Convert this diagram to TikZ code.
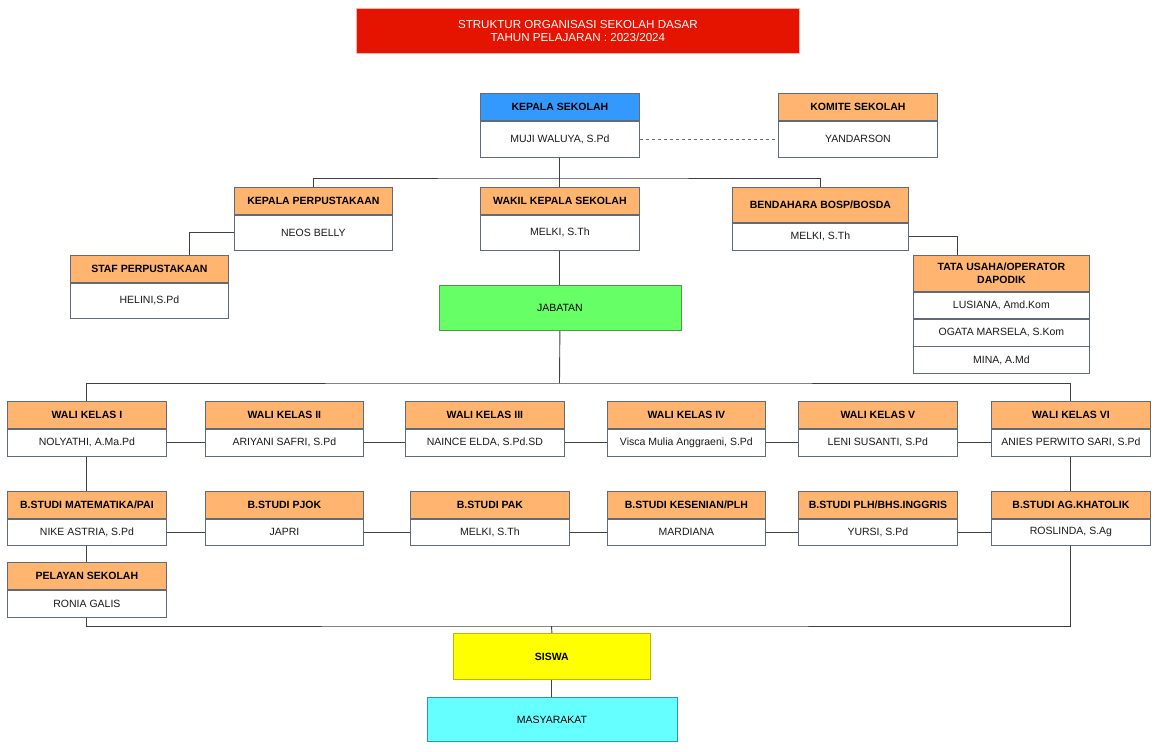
\documentclass[tikz,border=0pt]{standalone}
\usepackage{fontspec}
\setmainfont{Liberation Sans}

\definecolor{headorange}{HTML}{FFB570}
\definecolor{kepblue}{HTML}{3399FF}
\definecolor{titlered}{HTML}{E51400}
\definecolor{jabgreen}{HTML}{66FF66}
\definecolor{jabline}{HTML}{4D9A4D}
\definecolor{siswayellow}{HTML}{FFFF00}
\definecolor{siswaline}{HTML}{C8B400}
\definecolor{masycyan}{HTML}{66FFFF}
\definecolor{masyline}{HTML}{2F8FCF}
\definecolor{cardline}{HTML}{5F6B78}
\definecolor{linegray}{HTML}{404040}
\definecolor{bodytext}{HTML}{1A1A1A}

% header box + name box below it
\newcommand{\orgcard}[9][]{%
  \node[head,#1,minimum width=#5pt,minimum height=#6pt] (#2) at (#3,#4) {#8};
  \node[body,minimum width=#5pt,minimum height=#7pt] (#2b) at (#2.south) {#9};
}

\begin{document}
\begin{tikzpicture}[x=1pt,y=-1pt,
  box/.style={draw=cardline,line width=0.8pt,inner sep=0pt,align=center},
  head/.style={box,fill=headorange,font=\bfseries\fontsize{10.5}{13}\selectfont,anchor=north west},
  body/.style={box,fill=white,text=bodytext,font=\fontsize{10.5}{13}\selectfont,anchor=north},
  plain/.style={line width=0.8pt,inner sep=0pt,anchor=north west,font=\fontsize{10.5}{13}\selectfont},
  link/.style={draw=linegray,line width=0.9pt}]
\useasboundingbox (0,0) rectangle (1157,752);

\node[plain,fill=titlered,draw=red!30,text=white,align=center,
  font=\fontsize{11.6}{13.5}\selectfont,
  minimum width=443pt,minimum height=45pt] (title) at (356,8)
  {STRUKTUR ORGANISASI SEKOLAH DASAR\\TAHUN PELAJARAN : 2023/2024};

% top
\orgcard[fill=kepblue]{kepsek}{480}{93}{159}{27}{36}{KEPALA SEKOLAH}{MUJI WALUYA, S.Pd}
\orgcard{komite}{778}{93}{159}{27}{36}{KOMITE SEKOLAH}{YANDARSON}
\orgcard{perpus}{234}{187}{158}{27}{35}{KEPALA PERPUSTAKAAN}{NEOS BELLY}
\orgcard{wakil}{480}{187}{159}{27}{35}{WAKIL KEPALA SEKOLAH}{MELKI, S.Th}
\orgcard{bend}{732}{187}{176}{35}{27}{BENDAHARA BOSP/BOSDA}{MELKI, S.Th}
\orgcard{staf}{70}{255}{158}{27}{35}{STAF PERPUSTAKAAN}{HELINI,S.Pd}
\orgcard{tata}{913}{255}{176}{36}{26}{TATA USAHA/OPERATOR\\DAPODIK}{LUSIANA, Amd.Kom}
\node[body,minimum width=176pt,minimum height=27pt] (tata2) at (tatab.south) {OGATA MARSELA, S.Kom};
\node[body,minimum width=176pt,minimum height=27pt] (tata3) at (tata2.south) {MINA, A.Md};

\node[plain,fill=jabgreen,draw=jabline,minimum width=242pt,minimum height=45pt] (jab) at (438.5,285) {JABATAN};

% wali kelas
\orgcard{wk1}{7}{401}{159}{27}{27}{WALI KELAS I}{NOLYATHI, A.Ma.Pd}
\orgcard{wk2}{205}{401}{158}{27}{27}{WALI KELAS II}{ARIYANI SAFRI, S.Pd}
\orgcard{wk3}{405}{401}{159}{27}{27}{WALI KELAS III}{NAINCE ELDA, S.Pd.SD}
\orgcard{wk4}{607}{401}{158}{27}{27}{WALI KELAS IV}{Visca Mulia Anggraeni, S.Pd}
\orgcard{wk5}{798}{401}{159}{27}{27}{WALI KELAS V}{LENI SUSANTI, S.Pd}
\orgcard{wk6}{991}{401}{159}{27}{27}{WALI KELAS VI}{ANIES PERWITO SARI, S.Pd}

% bidang studi
\orgcard{mat}{7}{491}{159}{27}{26}{B.STUDI MATEMATIKA/PAI}{NIKE ASTRIA, S.Pd}
\orgcard{pjok}{205}{491}{158}{27}{26}{B.STUDI PJOK}{JAPRI}
\orgcard{pak}{410}{491}{159}{27}{26}{B.STUDI PAK}{MELKI, S.Th}
\orgcard{seni}{607}{491}{158}{27}{26}{B.STUDI KESENIAN/PLH}{MARDIANA}
\orgcard{plh}{798}{491}{159}{27}{26}{B.STUDI PLH/BHS.INGGRIS}{YURSI, S.Pd}
\orgcard{ag}{991}{491}{159}{27}{26}{B.STUDI AG.KHATOLIK}{ROSLINDA, S.Ag}
\orgcard{pel}{7}{562}{159}{27}{27}{PELAYAN SEKOLAH}{RONIA GALIS}

\node[plain,fill=siswayellow,draw=siswaline,font=\bfseries\fontsize{10.5}{13}\selectfont,
  minimum width=197pt,minimum height=46pt] (siswa) at (453,633) {SISWA};
\node[plain,fill=masycyan,draw=masyline,minimum width=250pt,minimum height=44pt] (masy) at (426.5,697) {MASYARAKAT};

\coordinate (bar1) at (559.5,178);
\coordinate (bar2) at (559.5,383);
\coordinate (bar3) at (551.5,626);

% connectors
\draw[draw=cardline,line width=0.8pt,dash pattern=on 3pt off 3pt] (kepsekb.east) -- (komiteb.west);
\draw[link] (kepsekb.south) -- (wakil.north);
\draw[link] (perpus.north) |- (bar1) -| (bend.north);
\draw[link] (perpusb.west) -| ([xshift=40pt]staf.north);
\draw[link] (bendb.east) -| ([xshift=-44pt]tata.north);
\draw[link] (wakilb.south) -- (jab.north);
\draw[link] (jab.south) -- (bar2);
\draw[link] (wk1.north) |- (bar2) -| (wk6.north);
\foreach \a/\b in {wk1/wk2,wk2/wk3,wk3/wk4,wk4/wk5,wk5/wk6,mat/pjok,pjok/pak,pak/seni,seni/plh,plh/ag}
  \draw[link] (\a b.east) -- (\b b.west);
\draw[link] (wk1b.south) -- (mat.north);
\draw[link] (wk6b.south) -- (ag.north);
\draw[link] (matb.south) -- (pel.north);
\draw[link] (pelb.south) |- (bar3) -| (agb.south);
\draw[link] (bar3) -- (siswa.north);
\draw[link] (siswa.south) -- (masy.north);
\end{tikzpicture}
\end{document}
